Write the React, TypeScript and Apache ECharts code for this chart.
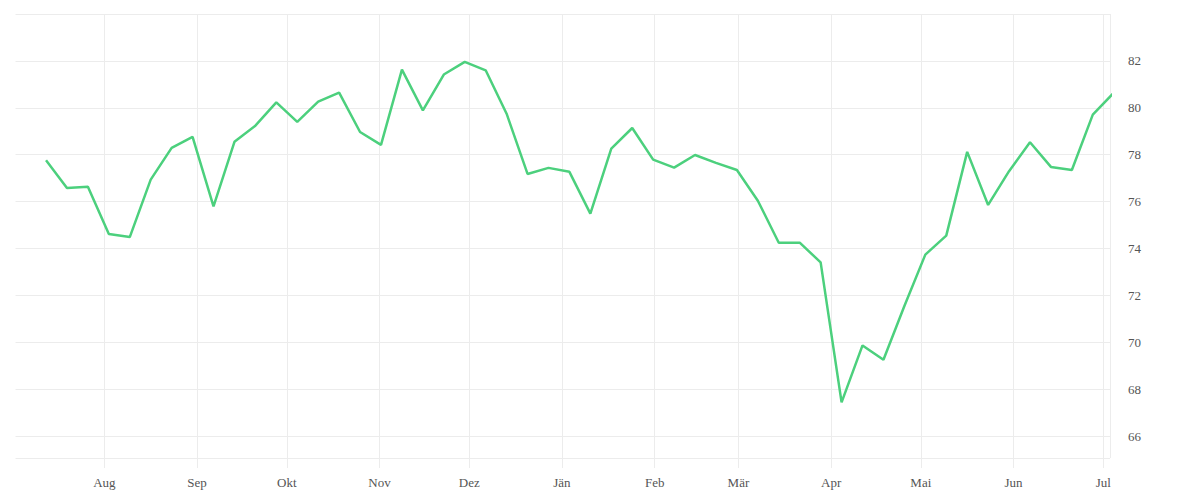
import React, { useEffect, useRef } from "react";
import * as echarts from "echarts";

// Weekly observation dates
const dates: string[] = [
  "2022-07-12", "2022-07-19", "2022-07-26",
  "2022-08-02", "2022-08-09", "2022-08-16", "2022-08-23", "2022-08-30",
  "2022-09-06", "2022-09-13", "2022-09-20", "2022-09-27",
  "2022-10-04", "2022-10-11", "2022-10-18", "2022-10-25",
  "2022-11-01", "2022-11-08", "2022-11-15", "2022-11-22", "2022-11-29",
  "2022-12-06", "2022-12-13", "2022-12-20", "2022-12-27",
  "2023-01-03", "2023-01-10", "2023-01-17", "2023-01-24", "2023-01-31",
  "2023-02-07", "2023-02-14", "2023-02-21", "2023-02-28",
  "2023-03-07", "2023-03-14", "2023-03-21", "2023-03-28",
  "2023-04-04", "2023-04-11", "2023-04-18", "2023-04-25",
  "2023-05-02", "2023-05-09", "2023-05-16", "2023-05-23", "2023-05-30",
  "2023-06-06", "2023-06-13", "2023-06-20", "2023-06-27",
  "2023-07-04",
];

const values: number[] = [
  77.76, 76.58, 76.63,
  74.62, 74.49, 76.94, 78.29, 78.76,
  75.8, 78.55, 79.24, 80.23,
  79.4, 80.26, 80.65, 78.97,
  78.42, 81.63, 79.89, 81.42, 81.96,
  81.6, 79.75, 77.18, 77.44,
  77.27, 75.49, 78.26, 79.14, 77.79,
  77.45, 77.99, 77.65, 77.35,
  76.04, 74.25, 74.25, 73.41,
  67.44, 69.87, 69.26, 71.55,
  73.74, 74.55, 78.12, 75.86, 77.3,
  78.53, 77.48, 77.35, 79.71,
  80.64,
];

const monthLabels: string[] = ["Jän", "Feb", "Mär", "Apr", "Mai", "Jun", "Jul", "Aug", "Sep", "Okt", "Nov", "Dez"];

const yMin = 65.07;
const yMax = 84;
const xMinDate = [2022, 7, 2, 3];
const xMaxDate = [2023, 7, 3, 6];

function toTs(s: string): number {
  const [y, m, d] = s.split("-").map(Number);
  return new Date(y, m - 1, d, 12).getTime();
}

const FONT = "'Liberation Serif', 'DejaVu Serif', serif";
const GRID_COLOR = "#ececec";

export default function App() {
  const ref = useRef<HTMLDivElement>(null);
  useEffect(() => {
    if (!ref.current) return;
    const chart = echarts.init(ref.current, null, { renderer: "svg" });
    const data = dates.map((d, i) => [toTs(d), values[i]]);
    chart.setOption({
      animation: false,
      grid: { left: 15, right: 90, top: 14, bottom: 42, containLabel: false },
      xAxis: {
        type: "time",
        min: new Date(xMinDate[0], xMinDate[1] - 1, xMinDate[2], xMinDate[3]).getTime(),
        max: new Date(xMaxDate[0], xMaxDate[1] - 1, xMaxDate[2], xMaxDate[3]).getTime(),
        splitNumber: 12,
        axisLine: { show: false },
        axisTick: { show: true, length: 10, lineStyle: { color: GRID_COLOR } },
        splitLine: { show: true, showMinLine: false, lineStyle: { color: GRID_COLOR, width: 1 } },
        axisLabel: {
          formatter: (v: number) => monthLabels[new Date(v).getMonth()],
          color: "#555",
          fontFamily: FONT,
          fontSize: 13,
          margin: 18,
        },
      },
      yAxis: {
        type: "value",
        position: "right",
        min: yMin,
        max: yMax,
        splitNumber: 9,
        axisLine: { show: false },
        axisTick: { show: false },
        splitLine: { show: true, lineStyle: { color: GRID_COLOR, width: 1 } },
        axisLabel: {
          showMinLabel: false,
          showMaxLabel: false,
          color: "#555",
          fontFamily: FONT,
          fontSize: 13,
          margin: 18,
        },
      },
      graphic: [
        {
          type: "rect",
          z: 100,
          shape: { x: 13.5, y: 10, width: 2, height: 460 },
          style: { fill: "#fff" },
          silent: true,
        },
      ],
      series: [
        {
          type: "line",
          data,
          showSymbol: false,
          symbol: "none",
          clip: true,
          lineStyle: { color: "#4cd07d", width: 2.5 },
        },
      ],
    });
    return () => chart.dispose();
  }, []);
  return (
    <div
      ref={ref}
      style={{ position: "fixed", left: 0, top: 0, width: 1200, height: 500, background: "#fff" }}
    />
  );
}
